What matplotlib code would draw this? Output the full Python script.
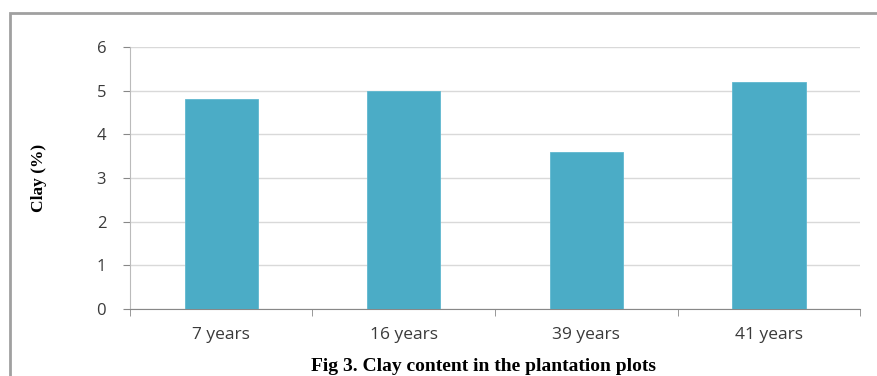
import matplotlib.pyplot as plt
from matplotlib.patches import Rectangle

categories = ["7 years", "16 years", "39 years", "41 years"]
clay = [4.8, 5.0, 3.6, 5.2]
yticks = [0, 1, 2, 3, 4, 5, 6]


def main():
    fig = plt.figure(figsize=(8.77, 3.76), dpi=100)
    ax = fig.add_axes([0.148, 0.178, 0.833, 0.697])

    x = list(range(len(categories)))
    ax.bar(x, clay, width=0.4, color="#4BACC6", edgecolor="#5FB8D0", linewidth=0.6, zorder=3)

    ax.set_xlim(-0.5, len(categories) - 0.5)
    ax.set_ylim(0, 6)
    ax.set_yticks(yticks)
    ax.set_yticklabels([str(v) for v in yticks], fontsize=12, family="Open Sans", color="#3a3a3a")
    ax.set_xticks(x)
    ax.set_xticklabels(categories, fontsize=12.5, family="Open Sans", color="#3a3a3a")
    ax.tick_params(axis="x", length=0, pad=13)
    ax.tick_params(axis="y", length=5, color="#888888", pad=12)

    # category boundary ticks
    ax.set_xticks([i - 0.5 for i in range(len(categories) + 1)], minor=True)
    ax.tick_params(axis="x", which="minor", length=5, color="#888888")

    ax.grid(axis="y", color="#d9d9d9", linewidth=1, zorder=0)
    for s in ["top", "right"]:
        ax.spines[s].set_visible(False)
    ax.spines["left"].set_color("#bbbbbb")
    ax.spines["bottom"].set_color("#888888")

    ax.set_ylabel("Clay (%)", fontsize=12.5, family="Liberation Serif", fontweight="bold", labelpad=36)

    fig.text(0.551, 0.003, "Fig 3. Clay content in the plantation plots", ha="center", va="bottom",
             fontsize=14, family="Liberation Serif", fontweight="bold")

    # outer frame
    fig.patches.append(Rectangle((0.0115, -0.1), 1.2, 1.065, transform=fig.transFigure,
                                 fill=False, edgecolor="#a0a0a0", linewidth=2))

    fig.savefig("out.png", dpi=100)


if __name__ == "__main__":
    main()
